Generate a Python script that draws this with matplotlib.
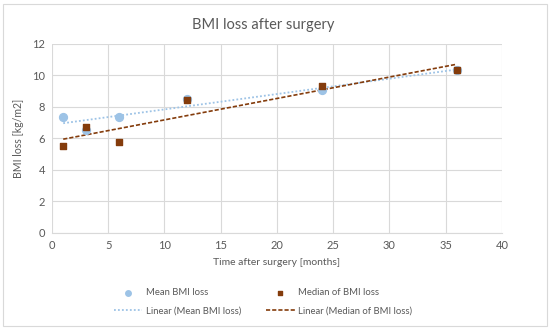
import matplotlib.pyplot as plt
import numpy as np
from matplotlib.patches import Rectangle

plt.rcParams['font.family'] = ['Lato', 'DejaVu Sans']

months = [1, 3, 6, 12, 24, 36]
mean_loss = [7.35, 6.55, 7.35, 8.5, 9.1, 10.35]
median_loss = [5.5, 6.7, 5.75, 8.45, 9.3, 10.35]

blue = '#9DC3E6'
brown = '#843C0C'
grey = '#595959'

fig = plt.figure(figsize=(5.5, 3.3), dpi=100)
ax = fig.add_axes([0.0945, 0.294, 0.818, 0.573])

# linear trendlines like Excel
x_fit = np.array([min(months), max(months)])
p_mean = np.polyfit(months, mean_loss, 1)
p_med = np.polyfit(months, median_loss, 1)

h1 = ax.scatter(months, mean_loss, s=32, marker='o', color=blue, zorder=3, label='Mean BMI loss')
h3 = ax.scatter(months, median_loss, s=22, marker='s', color=brown, zorder=4, label='Median of BMI loss')
h2, = ax.plot(x_fit, np.polyval(p_mean, x_fit), color=blue, lw=1.3, ls=(0, (1, 1.2)), zorder=2,
              label='Linear (Mean BMI loss)')
h4, = ax.plot(x_fit, np.polyval(p_med, x_fit), color=brown, lw=1.2, ls=(0, (2.5, 1.2)), zorder=2,
              label='Linear (Median of BMI loss)')

ax.set_xlim(0, 40)
ax.set_ylim(0, 12)
ax.set_xticks(range(0, 41, 5))
ax.set_yticks(range(0, 13, 2))
ax.grid(True, color='#D9D9D9', lw=0.8)
ax.set_axisbelow(True)
for s in ['top', 'right', 'left']:
    ax.spines[s].set_visible(False)
ax.spines['bottom'].set_color('#D9D9D9')
ax.tick_params(length=0, labelsize=8, colors=grey, pad=5)

ax.set_xlabel('Time after surgery [months]', fontsize=7.5, color=grey, labelpad=5)
ax.set_ylabel('BMI loss [kg/m2]', fontsize=7.6, color=grey, labelpad=6)
fig.suptitle('BMI loss after surgery', fontsize=10.5, color=grey, x=0.478, y=0.945)

fig.legend([h1, h2, h3, h4], [h1.get_label(), h2.get_label(), h3.get_label(), h4.get_label()],
           ncol=2, loc='center', bbox_to_anchor=(0.478, 0.086), frameon=False, fontsize=6.8,
           labelcolor=grey, columnspacing=2.7, handlelength=3.0, handletextpad=0.35,
           labelspacing=0.95, markerscale=0.7)

fig.add_artist(Rectangle((0.006, 0.012), 0.988, 0.976, transform=fig.transFigure,
                         fill=False, edgecolor='#D9D9D9', lw=0.8))

fig.savefig('out.png', dpi=100)
